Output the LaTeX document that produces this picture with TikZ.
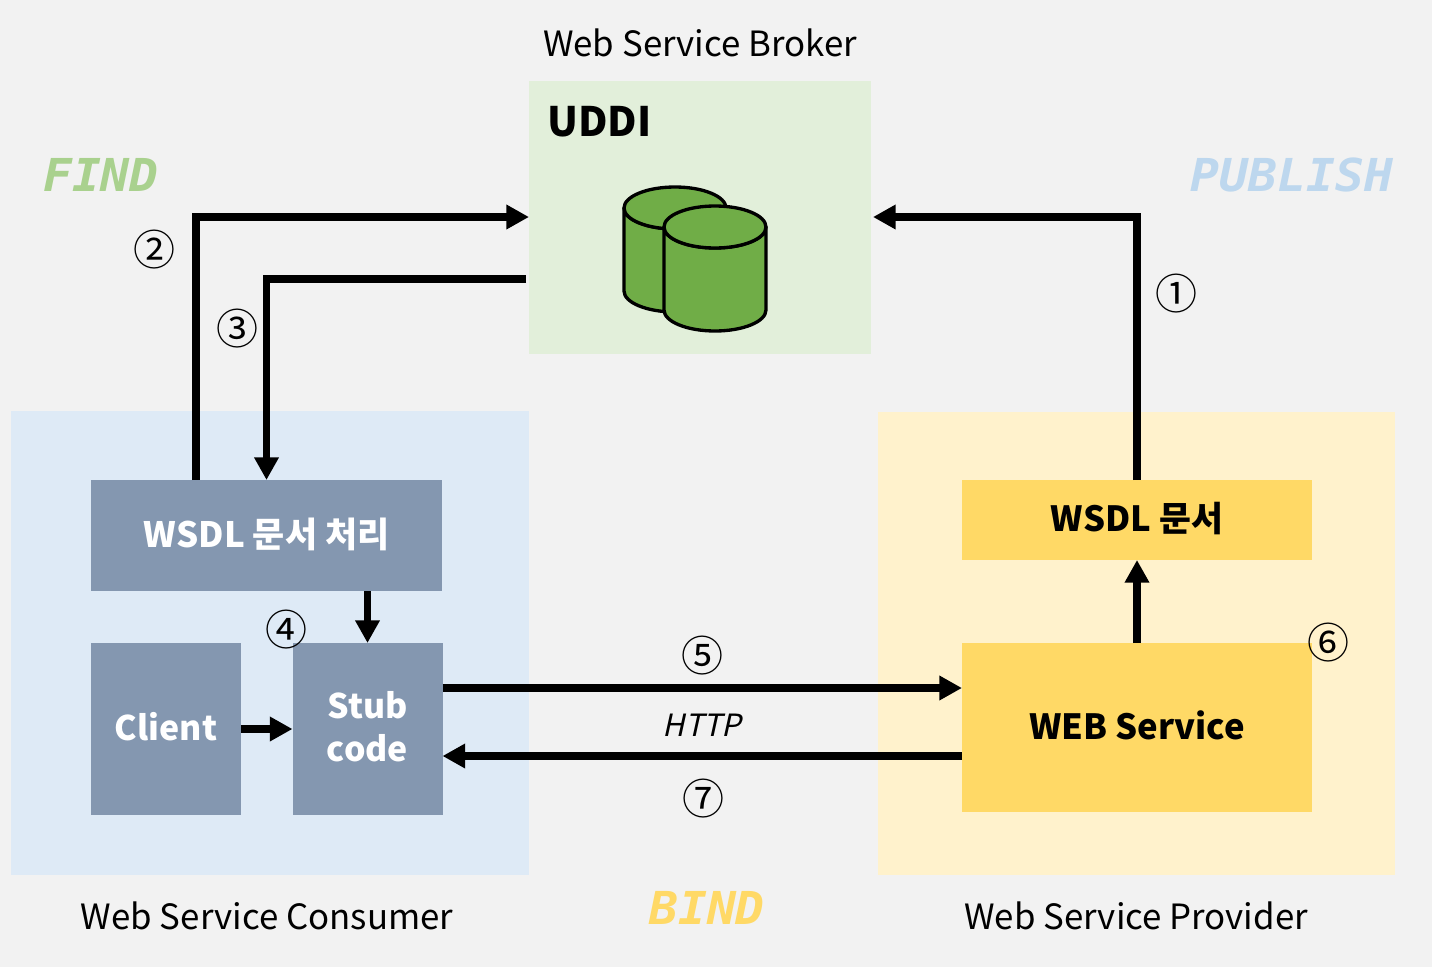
\documentclass[tikz,border=0pt]{standalone}
\usepackage{fontspec}
\setmainfont{Noto Sans CJK KR}
\newfontfamily\slantfont[FakeSlant=0.22]{Noto Sans CJK KR}
\newfontfamily\verbfont[FakeStretch=1.06,BoldItalicFont={DejaVu Sans Mono Bold Oblique},BoldItalicFeatures={FakeStretch=1.06}]{DejaVu Sans Mono}
\usetikzlibrary{arrows.meta,calc}
\definecolor{pagebg}{HTML}{F2F2F2}
\definecolor{brokerbg}{HTML}{E2EFDA}
\definecolor{consumerbg}{HTML}{DEEAF6}
\definecolor{providerbg}{HTML}{FFF2CC}
\definecolor{slate}{HTML}{8497B0}
\definecolor{amber}{HTML}{FFD966}
\definecolor{dbgreen}{HTML}{70AD47}
\definecolor{findgreen}{HTML}{A9D18E}
\definecolor{pubblue}{HTML}{BDD7EE}
\tikzset{
  x=0.75pt,y=-0.75pt,
  region/.style={draw=none,inner sep=0pt,outer sep=0pt,anchor=north west},
  slatebox/.style={region,fill=slate,text=white,font=\fontsize{26.2}{32.25}\selectfont\bfseries,align=center,anchor=center},
  smallslate/.style={slatebox,font=\fontsize{25.4}{32.25}\selectfont\bfseries},
  amberbox/.style={region,fill=amber,text=black,font=\fontsize{26}{32}\selectfont\bfseries,anchor=center},
  caption/.style={font=\fontsize{26.1}{32}\selectfont,inner sep=0pt},
  verb/.style={font=\fontsize{34}{40}\selectfont\verbfont\bfseries\itshape,inner sep=0pt},
  stepmark/.style={font=\fontsize{31.5}{36}\selectfont,inner sep=0pt},
  flow/.style={line width=5.9pt,-{Triangle[length=17pt,width=17.5pt]}},
  dbshape/.style={fill=dbgreen,draw=black,line width=2.5pt,line join=round},
}
\newcommand{\cylinder}[2]{%
  \path[dbshape] (#1-51,#2) -- (#1-51,#2+83) arc[start angle=180,end angle=360,x radius=51,y radius=-21]
    -- (#1+51,#2) arc[start angle=0,end angle=-180,x radius=51,y radius=-21] -- cycle;
  \path[dbshape] (#1,#2) ellipse[x radius=51,y radius=21];
}
\newcommand{\lift}[2]{\raisebox{#1}{#2}}
\begin{document}
\begin{tikzpicture}
\useasboundingbox[fill=pagebg] (0,0) rectangle (1432,967);

% tinted regions
\node[region,fill=brokerbg,minimum width=256.5pt,minimum height=204.75pt] (broker) at (529,81) {};
\node[region,fill=consumerbg,minimum width=388.5pt,minimum height=348pt] (consumer) at (11,411) {};
\node[region,fill=providerbg,minimum width=387.75pt,minimum height=347.25pt] (provider) at (878,412) {};

% service boxes
\node[slatebox,minimum width=263.25pt,minimum height=83.25pt] (proc) at (266.5,535.5) {\lift{4pt}{WSDL 문서 처리}};
\node[smallslate,minimum width=112.5pt,minimum height=129pt] (client) at (166,729) {\lift{3.5pt}{Client}};
\node[smallslate,minimum width=112.5pt,minimum height=129pt] (stub) at (367.5,729) {\raisebox{-1.5pt}[\height][\depth]{\begin{tabular}{@{}c@{}}Stub\\code\end{tabular}}};
\node[amberbox,minimum width=262.5pt,minimum height=60pt] (wsdl) at (1137,520) {\lift{4pt}{WSDL 문서}};
\node[amberbox,minimum width=262.5pt,minimum height=126.75pt] (webs) at (1137,727.5) {\lift{4.25pt}{WEB Service}};

% region captions
\node[caption] (brokercap) at (700,43) {Web Service Broker};
\node[caption] (consumercap) at (267,916) {Web Service Consumer};
\node[caption] (providercap) at (1136,916) {Web Service Provider};
\node[anchor=west,inner sep=0pt,font=\fontsize{30.4}{36}\selectfont\bfseries] (uddi) at (547,122) {UDDI};

% operation names
\node[verb,text=findgreen] (find) at (101,175) {FIND};
\node[verb,text=pubblue] (publish) at (1292,175) {PUBLISH};
\node[verb,text=amber] (bind) at (707,908) {BIND};
\node[inner sep=0pt,font=\fontsize{23}{28}\selectfont\slantfont] (http) at (702,725) {HTTP};

% registry database
\cylinder{675}{208}
\cylinder{715}{227}

% message flows
\draw[flow] ($(wsdl.north)$) |- ($(broker.north east)+(2,136)$);
\draw[flow] ($(proc.north)+(-70.5,0)$) |- ($(broker.north west)+(0,136)$);
\draw[flow] ($(broker.north west)+(-3,198)$) -| (proc.north);
\draw[flow] (stub.north |- proc.south) -- (stub.north);
\draw[flow] (client.east) -- (client.east -| stub.west);
\draw[flow] ($(stub.east)+(0,-41)$) -- ($(webs.west)+(0,-39.5)$);
\draw[flow] ($(webs.west)+(0,28.5)$) -- ($(stub.east)+(0,27)$);
\draw[flow] (webs.north) -- (wsdl.south);

% step numbers
\node[stepmark] (s1) at (1176,294) {①};
\node[stepmark] (s2) at (154,250) {②};
\node[stepmark] (s3) at (237,329) {③};
\node[stepmark] (s4) at (286.5,630) {④};
\node[stepmark] (s5) at (702,656) {⑤};
\node[stepmark] (s6) at (1328.5,643) {⑥};
\node[stepmark] (s7) at (703,799) {⑦};
\end{tikzpicture}
\end{document}
